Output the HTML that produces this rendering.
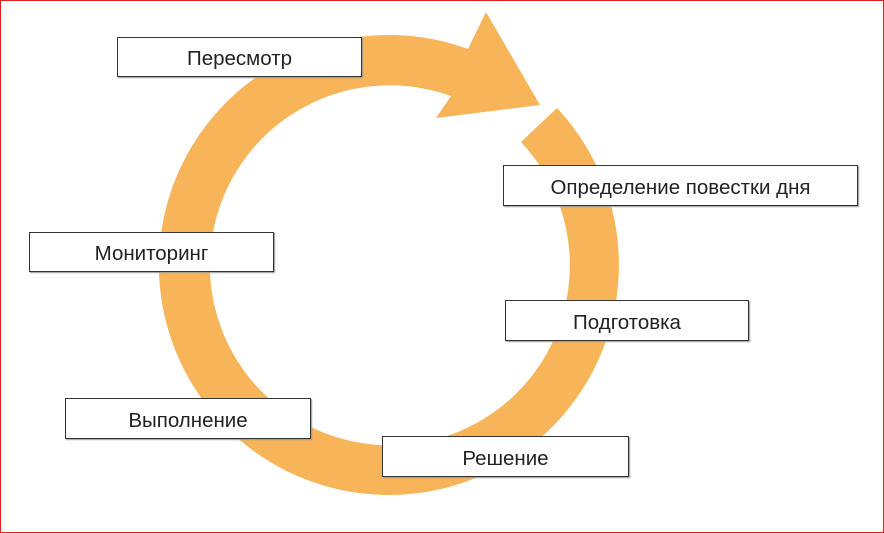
<!DOCTYPE html>
<html><head><meta charset="utf-8"><style>
body{margin:0;width:884px;height:533px;position:relative;background:#fff;overflow:hidden;font-family:"Liberation Sans",sans-serif;}
#frame{position:absolute;left:0;top:0;width:882px;height:531px;border:1px solid #e02020;}
.b{position:absolute;background:#fff;border:1.5px solid #333;box-shadow:1px 1px 1px #999;box-sizing:border-box;display:flex;align-items:center;justify-content:center;font-size:20.5px;color:#222;padding-top:4px;}
</style></head><body>
<div id="frame"></div>
<svg width="884" height="533" style="position:absolute;left:0;top:0">
<path d="M557,108 A230,230 0 1 1 468,49 L486,12 L540,105 L436,118 L451,96 A180,180 0 1 0 521,142 Z" fill="#F8B458"/>
</svg>
<div class="b" style="left:117px;top:37px;width:245px;height:40px">Пересмотр</div>
<div class="b" style="left:503px;top:165px;width:355px;height:41px">Определение повестки дня</div>
<div class="b" style="left:29px;top:232px;width:245px;height:40px">Мониторинг</div>
<div class="b" style="left:505px;top:300px;width:244px;height:41px">Подготовка</div>
<div class="b" style="left:65px;top:398px;width:246px;height:41px">Выполнение</div>
<div class="b" style="left:382px;top:436px;width:247px;height:41px">Решение</div>
</body></html>
